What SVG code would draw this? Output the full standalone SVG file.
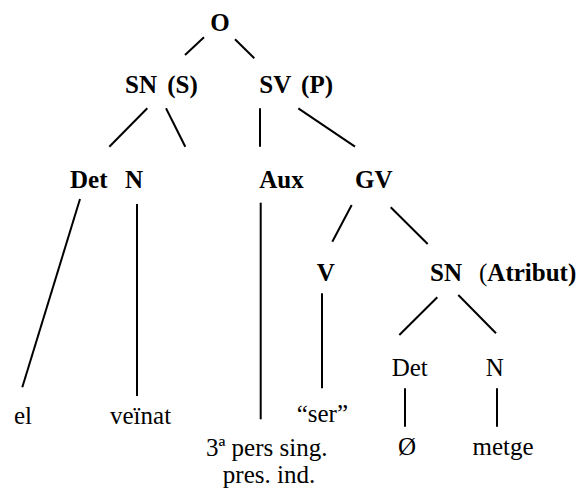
<svg xmlns="http://www.w3.org/2000/svg" width="580" height="490" viewBox="0 0 580 490">
<style>
text{font-family:"Liberation Serif","Times New Roman",serif;font-size:25px;fill:#000}
.b{font-weight:bold}
.r{font-weight:normal}
#connectors line{stroke:#000;stroke-width:2}
</style>
<rect width="580" height="490" fill="#fff"/>
<g id="connectors">
<line x1="204" y1="37.3" x2="185" y2="55"/>
<line x1="235" y1="39.3" x2="254.3" y2="58.3"/>
<line x1="147.3" y1="108.3" x2="109.3" y2="146.7"/>
<line x1="166" y1="108.3" x2="185.3" y2="146.7"/>
<line x1="260" y1="108.3" x2="260" y2="146.7"/>
<line x1="298.3" y1="108.3" x2="355" y2="146.7"/>
<line x1="80" y1="199" x2="22.3" y2="387.3"/>
<line x1="137" y1="204" x2="137" y2="396"/>
<line x1="260.7" y1="202.7" x2="260.7" y2="419.3"/>
<line x1="351.7" y1="205" x2="332.3" y2="241.7"/>
<line x1="390.7" y1="207.3" x2="427.7" y2="244"/>
<line x1="322" y1="293.3" x2="322" y2="388.3"/>
<line x1="437.3" y1="297.3" x2="399.3" y2="335"/>
<line x1="458.3" y1="295" x2="496" y2="333.3"/>
<line x1="405" y1="388.3" x2="405" y2="426.7"/>
<line x1="497" y1="388.3" x2="497" y2="426.7"/>
</g>
<g id="n-O"><text class="b" x="220" y="31" text-anchor="middle">O</text></g>
<g id="n-SN-S"><text class="b" x="125" y="93" word-spacing="4">SN (S)</text></g>
<g id="n-SV-P"><text class="b" x="259.3" y="93" word-spacing="4">SV (P)</text></g>
<g id="n-Det"><text class="b" x="70" y="188">Det</text></g>
<g id="n-N"><text class="b" x="125" y="188">N</text></g>
<g id="n-Aux"><text class="b" x="259.3" y="188">Aux</text></g>
<g id="n-GV"><text class="b" x="355" y="188">GV</text></g>
<g id="n-V"><text class="b" x="316.7" y="281">V</text></g>
<g id="n-SN-Atribut"><text class="b" x="430" y="281">SN<tspan class="r" x="479">(</tspan>Atribut)</text></g>
<g id="n-Det2"><text x="391.7" y="376">Det</text></g>
<g id="n-N2"><text x="485.7" y="376">N</text></g>
<g id="n-el"><text x="14" y="424">el</text></g>
<g id="n-veinat"><text x="110" y="424">veïnat</text></g>
<g id="n-ser"><text x="296.7" y="422">“ser”</text></g>
<g id="n-pers"><text x="266.7" y="456" text-anchor="middle">3ª pers sing.</text><text x="269" y="483" text-anchor="middle">pres. ind.</text></g>
<g id="n-zero"><text x="407" y="455" text-anchor="middle">Ø</text></g>
<g id="n-metge"><text x="503" y="455" text-anchor="middle">metge</text></g>
</svg>
